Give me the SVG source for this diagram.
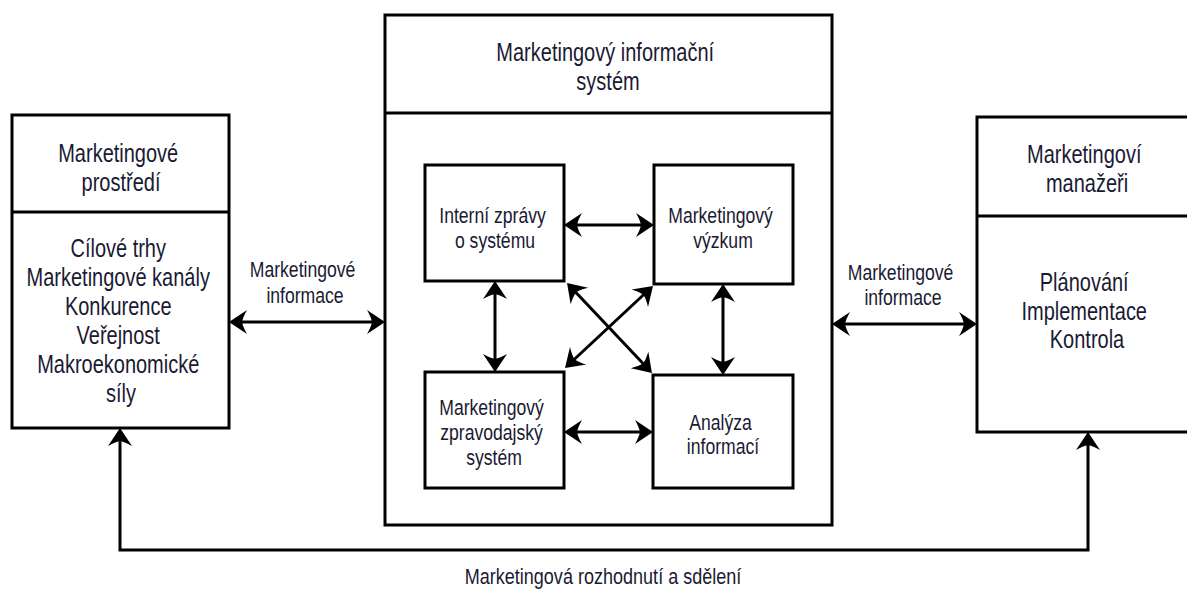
<svg xmlns="http://www.w3.org/2000/svg" width="1187" height="589" viewBox="0 0 1187 589">
  <style>
    .box { fill: #ffffff; stroke: #000000; stroke-width: 3; }
    .div { stroke: #000000; stroke-width: 3; fill: none; }
    .conn { stroke: #000000; stroke-width: 3; fill: none; marker-start: url(#ah); marker-end: url(#ah); }
    .t { font-family: "Liberation Sans", Arial, sans-serif; fill: #1a1a33; text-anchor: middle; }
    .big { font-size: 25px; }
    .small { font-size: 22px; }
  </style>
  <defs>
    <!-- swept-back filled arrowhead; tip sits 3px beyond the line end -->
    <marker id="ah" viewBox="-21 -13 22 26" refX="-3" refY="0" markerWidth="22" markerHeight="26" markerUnits="userSpaceOnUse" orient="auto-start-reverse">
      <path d="M0,0 L-18,-12 Q-14,-5 -13,0 Q-14,5 -18,12 Z" fill="#000000"/>
    </marker>
  </defs>
  <rect width="1187" height="589" fill="#ffffff"/>

  <!-- Marketing environment -->
  <g id="prostredi">
    <rect class="box" x="12" y="115" width="217" height="313"/>
    <line class="div" x1="12" y1="212" x2="229" y2="212"/>
    <text class="t big" transform="translate(121,0) scale(0.8,1)">
      <tspan x="0" y="162">Marketingové</tspan>
      <tspan x="0" y="191">prostředí</tspan>
    </text>
    <text class="t big" transform="translate(121,0) scale(0.8,1)">
      <tspan x="0" y="257">Cílové trhy</tspan>
      <tspan x="0" y="286">Marketingové kanály</tspan>
      <tspan x="0" y="315">Konkurence</tspan>
      <tspan x="0" y="344">Veřejnost</tspan>
      <tspan x="0" y="373">Makroekonomické</tspan>
      <tspan x="0" y="402">síly</tspan>
    </text>
  </g>

  <!-- Marketing information system -->
  <g id="mis">
    <rect class="box" x="385" y="15" width="447" height="510"/>
    <line class="div" x1="385" y1="113" x2="832" y2="113"/>
    <text class="t big" transform="translate(608,0) scale(0.8,1)">
      <tspan x="0" y="61">Marketingový informační</tspan>
      <tspan x="0" y="90">systém</tspan>
    </text>
  </g>

  <g id="interni">
    <rect class="box" x="425" y="165" width="139" height="116"/>
    <text class="t small" transform="translate(495,0) scale(0.8,1)">
      <tspan x="0" y="223">Interní zprávy</tspan>
      <tspan x="0" y="248">o systému</tspan>
    </text>
  </g>

  <g id="vyzkum">
    <rect class="box" x="654" y="165" width="139" height="119"/>
    <text class="t small" transform="translate(723,0) scale(0.8,1)">
      <tspan x="0" y="223">Marketingový</tspan>
      <tspan x="0" y="248">výzkum</tspan>
    </text>
  </g>

  <g id="zpravodajsky">
    <rect class="box" x="425" y="372" width="139" height="116"/>
    <text class="t small" transform="translate(494,0) scale(0.8,1)">
      <tspan x="0" y="415">Marketingový</tspan>
      <tspan x="0" y="440">zpravodajský</tspan>
      <tspan x="0" y="465">systém</tspan>
    </text>
  </g>

  <g id="analyza">
    <rect class="box" x="653" y="375" width="140" height="113"/>
    <text class="t small" transform="translate(723,0) scale(0.8,1)">
      <tspan x="0" y="430">Analýza</tspan>
      <tspan x="0" y="454">informací</tspan>
    </text>
  </g>

  <!-- Marketing managers (box runs past the right edge) -->
  <g id="manazeri">
    <rect class="box" x="977" y="117" width="222" height="315"/>
    <line class="div" x1="977" y1="216" x2="1199" y2="216"/>
    <text class="t big" transform="translate(1087,0) scale(0.8,1)">
      <tspan x="0" y="163">Marketingoví</tspan>
      <tspan x="0" y="192">manažeři</tspan>
    </text>
    <text class="t big" transform="translate(1087,0) scale(0.8,1)">
      <tspan x="0" y="291">Plánování</tspan>
      <tspan x="0" y="320">Implementace</tspan>
      <tspan x="0" y="348">Kontrola</tspan>
    </text>
  </g>

  <!-- Connectors -->
  <g id="connectors">
    <line class="conn" x1="232" y1="322" x2="382" y2="322"/>
    <line class="conn" x1="835" y1="324" x2="974" y2="324"/>
    <line class="conn" x1="567" y1="225" x2="651" y2="225"/>
    <line class="conn" x1="567" y1="432" x2="650" y2="432"/>
    <line class="conn" x1="495" y1="284" x2="495" y2="369"/>
    <line class="conn" x1="723" y1="287" x2="723" y2="372"/>
    <line class="conn" x1="569.1" y1="285.2" x2="649.9" y2="370.8"/>
    <line class="conn" x1="650.8" y1="288" x2="567.2" y2="366"/>
    <path class="conn" d="M120,431 V550 H1088 V435"/>
    <text class="t small" transform="translate(305,0) scale(0.8,1)">
      <tspan x="0" y="277">Marketingové</tspan>
      <tspan x="0" y="303">informace</tspan>
    </text>
    <text class="t small" transform="translate(903,0) scale(0.8,1)">
      <tspan x="0" y="280">Marketingové</tspan>
      <tspan x="0" y="305">informace</tspan>
    </text>
    <text class="t small" transform="translate(603,0) scale(0.82,1)">
      <tspan x="0" y="584">Marketingová rozhodnutí a sdělení</tspan>
    </text>
  </g>
</svg>
